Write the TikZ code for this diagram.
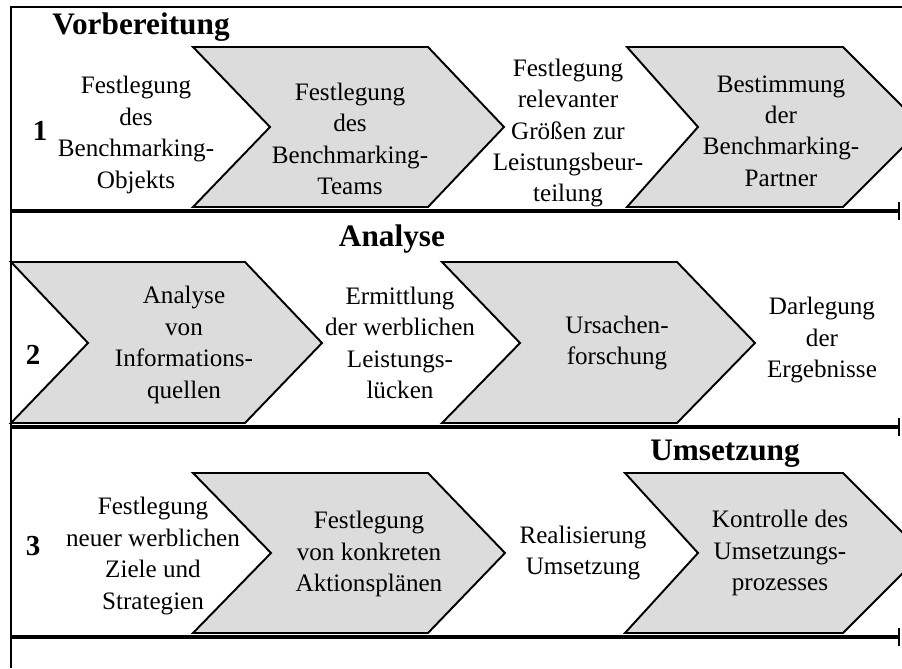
\documentclass[tikz,border=0pt]{standalone}
\usepackage{fontspec}
\setmainfont{Liberation Serif}
\usetikzlibrary{arrows.meta}
\definecolor{phasegrey}{RGB}{220,220,220}

\begin{document}
\begin{tikzpicture}[x=2cm, y=2cm,
    phase/.style={draw, fill=phasegrey, line width=1.1pt, line join=miter},
    schritt/.style={align=center, inner sep=0pt, font=\fontsize{14.3}{17.9}\selectfont},
    titel/.style={anchor=base, inner sep=0pt, font=\fontsize{17.8}{20}\selectfont\bfseries},
    nummer/.style={inner sep=0pt, font=\fontsize{16.5}{18}\selectfont\bfseries},
    achse/.style={line width=2.3pt, -{Bar[width=10pt, line width=1.2pt]}}]
      \useasboundingbox (0,0) rectangle (9.02,6.68);
      \clip (0,0) rectangle (9.02,6.68);

      % Rahmen
      \draw[line width=1.4pt] (0.11,0) -- (0.11,6.61) -- (9.02,6.61);

      % Phase 1
      \draw[phase] (1.93,6.21) -- (4.28,6.21) -- (5.04,5.41) -- (4.28,4.61) -- (1.93,4.61) -- (2.70,5.41) -- cycle;
      \draw[phase] (6.27,6.21) -- (8.43,6.21) -- (9.23,5.41) -- (8.43,4.61) -- (6.27,4.61) -- (6.98,5.41) -- cycle;
      \draw[achse] (0.11,4.57) -- (9.00,4.57);

      \node[titel] (vorb) at (1.41,6.33) {Vorbereitung};
      \node[nummer] (n1) at (0.40,5.37) {1};
      \node[schritt] (objekt) at (1.36,5.33) {Festlegung\\des\\Benchmarking-\\Objekts};
      \node[schritt] (team) at (3.50,5.29) {Festlegung\\des\\Benchmarking-\\Teams};
      \node[schritt] (groessen) at (5.68,5.35) {Festlegung\\relevanter\\Größen zur\\Leistungsbeur-\\teilung};
      \node[schritt] (partner) at (7.81,5.37) {Bestimmung\\der\\Benchmarking-\\Partner};

      % Phase 2
      \draw[phase] (0.11,4.06) -- (2.45,4.06) -- (3.22,3.25) -- (2.45,2.45) -- (0.11,2.45) -- (0.88,3.25) -- cycle;
      \draw[phase] (4.42,4.06) -- (6.77,4.06) -- (7.55,3.25) -- (6.77,2.45) -- (4.42,2.45) -- (5.20,3.25) -- cycle;
      \draw[achse] (0.11,2.41) -- (9.00,2.41);

      \node[titel] (anal) at (3.92,4.21) {Analyse};
      \node[nummer] (n2) at (0.33,3.13) {2};
      \node[schritt] (quellen) at (1.84,3.23) {Analyse\\von\\Informations-\\quellen};
      \node[schritt] (luecken) at (4.00,3.25) {Ermittlung\\der werblichen\\Leistungs-\\lücken};
      \node[schritt] (ursachen) at (6.17,3.25) {Ursachen-\\forschung};
      \node[schritt] (ergebnis) at (8.22,3.28) {Darlegung\\der\\Ergebnisse};

      % Phase 3
      \draw[phase] (1.93,1.95) -- (4.28,1.95) -- (5.05,1.15) -- (4.28,0.35) -- (1.93,0.35) -- (2.71,1.15) -- cycle;
      \draw[phase] (6.25,1.95) -- (8.43,1.95) -- (9.23,1.15) -- (8.43,0.35) -- (6.25,0.35) -- (6.98,1.15) -- cycle;
      \draw[achse] (0.11,0.31) -- (9.00,0.31);

      \node[titel] (umse) at (7.25,2.07) {Umsetzung};
      \node[nummer] (n3) at (0.33,1.22) {3};
      \node[schritt] (ziele) at (1.53,1.12) {Festlegung\\neuer werblichen\\Ziele und\\Strategien};
      \node[schritt] (plaene) at (3.69,1.14) {Festlegung\\von konkreten\\Aktionspläne{n}};
      \node[schritt] (real) at (5.83,1.15) {Realisierung\\Umsetzung};
      \node[schritt] (kontrolle) at (7.80,1.15) {Kontrolle des\\Umsetzungs-\\prozesses};
    \end{tikzpicture}
\end{document}
